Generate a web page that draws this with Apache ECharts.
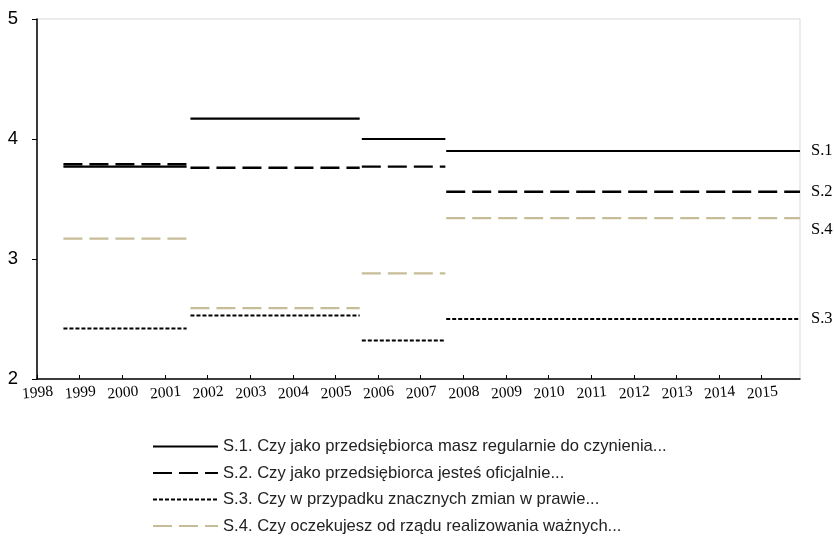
<!DOCTYPE html>
<html>
<head>
<meta charset="utf-8">
<script src="https://cdn.jsdelivr.net/npm/echarts@6/dist/echarts.min.js"></script>
<style>html,body{margin:0;padding:0;background:#fff;}#chart{width:834px;height:548px;}</style>
</head>
<body>
<div id="chart"></div>
<script>
// Period boundaries (years on the x axis)
var segStart = [1998.62, 2001.60, 2005.62, 2007.60];
var segEnd   = [2001.51, 2005.57, 2007.58, 2015.90];
// Series values per period
var s1 = [3.77, 4.17, 4.00, 3.90];
var s2 = [3.79, 3.76, 3.77, 3.56];
var s3 = [2.42, 2.53, 2.32, 2.50];
var s4 = [3.17, 2.59, 2.88, 3.34];
var seriesNames = [
  'S.1. Czy jako przedsiębiorca masz regularnie do czynienia...',
  'S.2. Czy jako przedsiębiorca jesteś oficjalnie...',
  'S.3. Czy w przypadku znacznych zmian w prawie...',
  'S.4. Czy oczekujesz od rządu realizowania ważnych...'
];
var endTags = ['S.1', 'S.2', 'S.3', 'S.4'];
var yTicks = [2, 3, 4, 5];

function build(vals) {
  var d = [];
  for (var i = 0; i < vals.length; i++) {
    d.push([segStart[i], vals[i]]);
    d.push([segEnd[i], vals[i]]);
    if (i < vals.length - 1) d.push([segEnd[i], '-']);
  }
  return d;
}

var styles = [
  {color: '#000000', width: 2.2, type: 'solid', off: [0, 0]},
  {color: '#000000', width: 2.4, type: [19, 7], off: [0, 0]},
  {color: '#000000', width: 2, type: [4, 2], off: [0, 0]},
  {color: '#C6BD98', width: 2.2, type: [19, 7], off: [0, 11]}
];
var vals = [s1, s2, s3, s4];

var series = vals.map(function (v, i) {
  return {
    name: seriesNames[i],
    type: 'line',
    data: build(v),
    symbol: 'none',
    connectNulls: false,
    lineStyle: {color: styles[i].color, width: styles[i].width, type: styles[i].type},
    itemStyle: {color: styles[i].color},
    endLabel: {
      show: true,
      formatter: endTags[i],
      color: '#000',
      fontFamily: 'Liberation Serif',
      fontSize: 16.5,
      distance: 11,
      offset: styles[i].off
    }
  };
});

var chart = echarts.init(document.getElementById('chart'), null, {renderer: 'canvas'});
chart.setOption({
  animation: false,
  backgroundColor: '#fff',
  grid: {left: 37, right: 34, top: 19, bottom: 169, show: true, borderColor: '#d9d9d9', borderWidth: 1},
  xAxis: {
    type: 'value',
    min: 1998,
    max: 2015.9,
    interval: 1,
    splitLine: {show: false},
    axisLine: {show: true, onZero: false, lineStyle: {color: '#000', width: 1.5}},
    axisTick: {show: true, inside: true, length: 4, lineStyle: {color: '#000'}},
    axisLabel: {
      rotate: 5,
      align: 'center',
      verticalAlign: 'top',
      margin: 6,
      color: '#000',
      fontFamily: 'Liberation Serif',
      fontSize: 15.5,
      showMaxLabel: false,
      formatter: function (v) { return Number.isInteger(v) ? String(v) : ''; }
    }
  },
  yAxis: {
    type: 'value',
    min: yTicks[0],
    max: yTicks[yTicks.length - 1],
    interval: 1,
    splitLine: {show: false},
    axisLine: {show: true, lineStyle: {color: '#000', width: 1.5}},
    axisTick: {show: true, inside: false, length: 5, lineStyle: {color: '#000'}},
    axisLabel: {color: '#000', fontFamily: 'Liberation Sans', fontSize: 18.5, margin: 19}
  },
  legend: {
    orient: 'vertical',
    left: 152,
    top: 438,
    itemWidth: 65,
    itemHeight: 14,
    itemGap: 9.5,
    padding: 0,
    itemStyle: {opacity: 0},
    textStyle: {color: '#222', fontFamily: 'Liberation Sans', fontSize: 16.6},
    data: seriesNames
  },
  series: series
});
</script>
</body>
</html>
